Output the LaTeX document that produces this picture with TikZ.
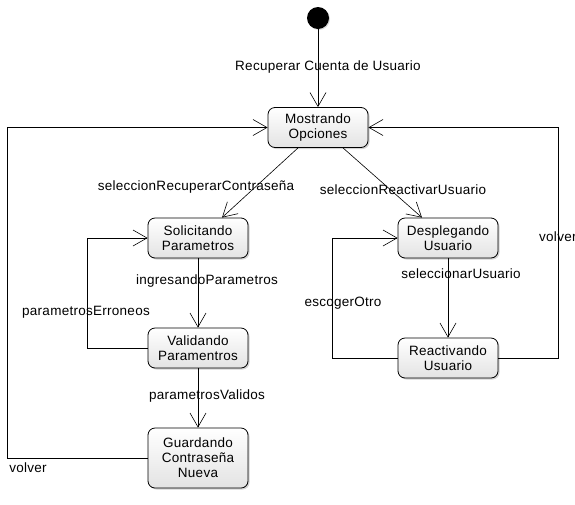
\documentclass[tikz,border=0pt]{standalone}
\usepackage{fontspec}
\setmainfont{Liberation Sans}[LetterSpace=2]
\usetikzlibrary{arrows.meta,shadows}
\begin{document}
\begin{tikzpicture}[x=1pt,y=-1pt,
  font=\fontsize{13.5}{15}\selectfont,
  state/.style={draw=black, line width=0.8pt, rounded corners=7pt, minimum width=100pt,
    minimum height=40pt, align=center, inner sep=1pt, top color=white, bottom color=gray!22,
    drop shadow={shadow xshift=1.5pt, shadow yshift=-1.5pt, opacity=0.35}},
  arr/.style={draw=black, line width=0.6pt, -{Straight Barb[length=14pt,width=16pt,line width=0.6pt]}},
  lbl/.style={inner sep=0pt}]
\useasboundingbox (0,0) rectangle (575,504);
\node[circle, fill=black, minimum size=22pt, inner sep=0pt,
  drop shadow={shadow xshift=1pt, shadow yshift=-1pt, opacity=0.3}] (init) at (318,18) {};
\node[state] (mo) at (318,127.5) {Mostrando\\Opciones};
\node[state] (so) at (198,238) {Solicitando\\Parametros};
\node[state] (va) at (198,348) {Validando\\Paramentros};
\node[state, minimum height=60pt] (gu) at (198,458) {Guardando\\Contraseña\\Nueva};
\node[state] (de) at (448,238) {Desplegando\\Usuario};
\node[state] (re) at (448,358) {Reactivando\\Usuario};

\draw[arr] (init) -- (mo.north);
\draw[arr] ([xshift=-20pt]mo.south) -- ([xshift=24pt]so.north);
\draw[arr] ([xshift=25pt]mo.south) -- ([xshift=-26pt]de.north);
\draw[arr] (so) -- (va);
\draw[arr] (va.west) -- ++(-60,0) |- (so.west);
\draw[arr] (va) -- (gu);
\draw[arr] (gu.west) -- ++(-140,0) |- (mo.west);
\draw[arr] (de) -- (re);
\draw[arr] (re.west) -- ++(-65,0) |- (de.west);
\draw[arr] (re.east) -- ++(60,0) |- (mo.east);

\node[lbl] (l1) at (328,67) {Recuperar Cuenta de Usuario};
\node[lbl] (l2) at (196,187) {seleccionRecuperarContraseña};
\node[lbl] (l3) at (403,190) {seleccionReactivarUsuario};
\node[lbl] (l4) at (207,281) {ingresandoParametros};
\node[lbl] (l5) at (86,312) {parametrosErroneos};
\node[lbl] (l6) at (207,396) {parametrosValidos};
\node[lbl] (l7) at (28,468) {volver};
\node[lbl] (l8) at (461,274) {seleccionarUsuario};
\node[lbl] (l9) at (343,303) {escogerOtro};
\node[lbl, anchor=west] (l10) at (539,237) {volver};
\end{tikzpicture}
\end{document}
